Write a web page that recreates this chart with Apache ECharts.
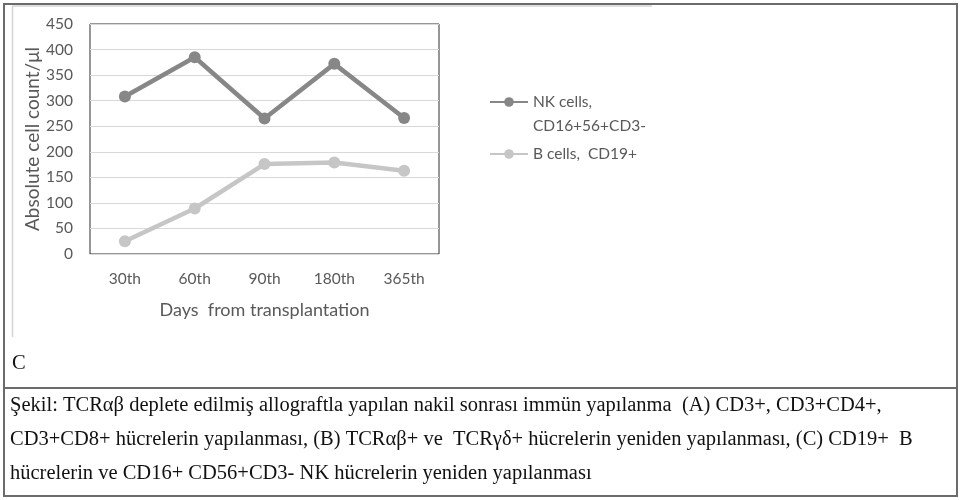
<!DOCTYPE html>
<html>
<head>
<meta charset="utf-8">
<script src="https://cdn.jsdelivr.net/npm/echarts@6/dist/echarts.min.js"></script>
<style>html,body{margin:0;padding:0;background:#fff}#c{width:960px;height:500px}</style>
</head>
<body>
<div id="c"></div>
<script>
const categories = ['30th', '60th', '90th', '180th', '365th'];
const nkValues = [308, 385, 265, 372, 266];
const bValues = [25, 89, 176, 179, 163];
const seriesNames = ['NK cells,\nCD16+56+CD3-', 'B cells,  CD19+'];
const yTicks = { min: 0, max: 450, interval: 50 };
const xTitle = 'Days  from transplantation';
const yTitle = 'Absolute cell count/\u03bcl';
const panelLetter = 'C';
const captionLines = [
  'Şekil: TCRαβ deplete edilmiş allograftla yapılan nakil sonrası immün yapılanma  (A) CD3+, CD3+CD4+,',
  'CD3+CD8+ hücrelerin yapılanması, (B) TCRαβ+ ve  TCRγδ+ hücrelerin yeniden yapılanması, (C) CD19+  B',
  'hücrelerin ve CD16+ CD56+CD3- NK hücrelerin yeniden yapılanması'
];

const chart = echarts.init(document.getElementById('c'), null, { renderer: 'canvas' });
const sans = 'Lato';
const serif = '"Liberation Serif", "Times New Roman", serif';
const labelColor = '#595959';

const captionGraphics = captionLines.map((t, i) => ({
  type: 'text', x: 10, y: 406 + i * 34,
  style: { text: t, font: '20.5px ' + serif, fill: '#111', verticalAlign: 'middle' }
}));

chart.setOption({
  animation: false,
  backgroundColor: '#fff',
  grid: { left: 90, right: 521, top: 24, bottom: 246, show: true, borderColor: '#2e2e2e', borderWidth: 1, backgroundColor: 'transparent' },
  xAxis: {
    type: 'category', data: categories, boundaryGap: true,
    axisLine: { show: false }, axisTick: { show: false },
    axisLabel: { color: labelColor, fontSize: 15.5, fontFamily: sans, margin: 17 },
    name: xTitle, nameLocation: 'middle', nameGap: 47,
    nameTextStyle: { color: labelColor, fontSize: 18, fontFamily: sans }
  },
  yAxis: {
    type: 'value', min: yTicks.min, max: yTicks.max, interval: yTicks.interval,
    axisLine: { show: false }, axisTick: { show: false },
    axisLabel: { color: labelColor, fontSize: 15.5, fontFamily: sans, margin: 17 },
    splitLine: { lineStyle: { color: '#d9d9d9', width: 1 } },
    name: yTitle, nameLocation: 'middle', nameGap: 48, nameRotate: 90,
    nameTextStyle: { color: labelColor, fontSize: 19, fontFamily: sans }
  },
  legend: [
    {
      data: [seriesNames[0]], orient: 'vertical', left: 489, top: 66, padding: 0,
      itemWidth: 38, itemHeight: 12, itemGap: 5,
      formatter: name => '\n' + name,
      textStyle: { color: labelColor, fontSize: 15.5, fontFamily: sans, lineHeight: 24 }
    },
    {
      data: [seriesNames[1]], orient: 'vertical', left: 489, top: 142, padding: 0,
      itemWidth: 38, itemHeight: 12, itemGap: 5,
      textStyle: { color: labelColor, fontSize: 15.5, fontFamily: sans, lineHeight: 24 }
    }
  ],
  series: [
    {
      name: seriesNames[1], type: 'line', data: bValues,
      symbol: 'circle', symbolSize: 12,
      lineStyle: { color: '#c6c6c6', width: 4.5 },
      itemStyle: { color: '#c6c6c6' }
    },
    {
      name: seriesNames[0], type: 'line', data: nkValues,
      symbol: 'circle', symbolSize: 12,
      lineStyle: { color: '#878787', width: 4.5 },
      itemStyle: { color: '#878787' }
    }
  ],
  graphic: [
    { type: 'rect', shape: { x: 4, y: 4, width: 953, height: 492 }, style: { fill: 'none', stroke: '#6b6b6b', lineWidth: 2 }, z: 100 },
    { type: 'line', shape: { x1: 4, y1: 388, x2: 957, y2: 388 }, style: { stroke: '#6b6b6b', lineWidth: 2 }, z: 100 },
    { type: 'line', shape: { x1: 12, y1: 6, x2: 652, y2: 6 }, style: { stroke: '#d4d4d4', lineWidth: 1.5 }, z: 99 },
    { type: 'line', shape: { x1: 12.5, y1: 6, x2: 12.5, y2: 337 }, style: { stroke: '#d4d4d4', lineWidth: 1.5 }, z: 99 },
    { type: 'text', x: 12, y: 364, style: { text: panelLetter, font: '20.5px ' + serif, fill: '#111', verticalAlign: 'middle' } }
  ].concat(captionGraphics)
});
</script>
</body>
</html>
